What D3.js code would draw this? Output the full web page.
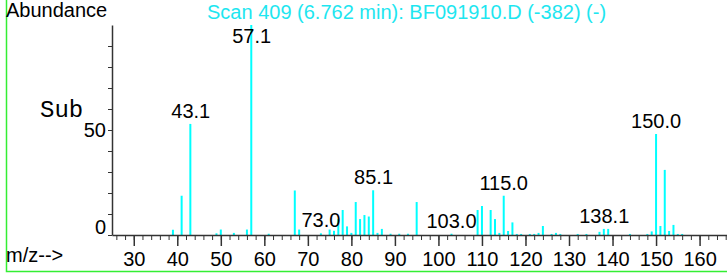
<!DOCTYPE html>
<html>
<head>
<meta charset="utf-8">
<script src="https://cdn.jsdelivr.net/npm/d3@7"></script>
<style>
  body { margin: 0; background: #fff; }
  svg { display: block; font-family: "Liberation Sans", Arial, sans-serif; }
  .axis path, .axis line { stroke: #333; }
  .axis text { font-size: 20px; fill: #000; font-family: "Liberation Sans", Arial, sans-serif; }
  .sub { font-family: "Liberation Mono", "DejaVu Sans Mono", monospace; font-size: 24px; }
</style>
</head>
<body>
<div class="chart"></div>
<script>
// m/z and relative abundance (%)
const mzValues = [39, 41, 43, 49, 50, 53, 56, 57, 61, 67, 68, 73, 75, 76, 77, 78, 79, 80, 81, 82,
  83, 84, 85, 86, 87, 89, 91, 93, 95, 103, 109, 110, 112, 113, 114, 115, 116, 117, 118, 119,
  121, 122, 123, 124, 126, 127, 128, 132, 134, 137, 138, 139, 144, 148, 149, 150, 151, 152, 153, 154,
  155, 156];
const abundances = [2.5, 18.7, 52.9, 0.8, 2.6, 1.0, 2.6, 100, 0.6, 21.2, 2.6, 0.8, 2.6, 2.0, 7.5, 11.9, 4.1, 1.0, 15.7, 7.6,
  9.5, 8.8, 21.3, 1.0, 2.9, 0.6, 0.6, 0.6, 15.7, 0.6, 11.9, 13.8, 11.9, 7.6, 1.0, 18.7, 1.9, 6.0, 0.5, 0.5,
  0.5, 0.5, 1.0, 4.3, 0.5, 1.0, 0.5, 0.5, 0.5, 1.5, 2.9, 2.9, 0.5, 0.5, 1.7, 48.1, 4.3, 31, 1.9, 4.8,
  0.5, 0.5];

const labelMz = [43, 57, 73, 85, 103, 115, 138, 150];
const labelText = ["43.1", "57.1", "73.0", "85.1", "103.0", "115.0", "138.1", "150.0"];

const majorTicks = d3.range(30, 161, 10);
const minorTicks = d3.range(26, 167, 2);
const yTicks = d3.range(0, 100, 10);

const W = 727, H = 273;
const svg = d3.select(".chart").append("svg")
  .attr("width", W).attr("height", H);

const x = d3.scaleLinear().domain([25, 166.3]).range([112, 727]);
const y = d3.scaleLinear().domain([0, 100]).range([235, 25]);

// green frame
svg.append("rect")
  .attr("x", 6.5).attr("y", -5)
  .attr("width", W).attr("height", 276.5)
  .attr("fill", "none")
  .attr("stroke", "#33ee33")
  .attr("stroke-width", 1.5);

// bars
svg.append("g").selectAll("line")
  .data(mzValues.map((m, i) => ({ mz: m, v: abundances[i] })))
  .join("line")
  .attr("x1", d => x(d.mz)).attr("x2", d => x(d.mz))
  .attr("y1", y(0)).attr("y2", d => y(d.v))
  .attr("stroke", "#00ffff")
  .attr("stroke-width", 2);

// x axis: minor then major
svg.append("g").attr("class", "axis")
  .attr("transform", `translate(0,${y(0)})`)
  .call(d3.axisBottom(x).tickValues(minorTicks).tickSize(5).tickSizeOuter(0).tickFormat(""))
  .call(g => g.select(".domain").attr("stroke-width", 1.5));

svg.append("g").attr("class", "axis")
  .attr("transform", `translate(0,${y(0)})`)
  .call(d3.axisBottom(x).tickValues(majorTicks).tickSize(11).tickSizeOuter(0).tickPadding(6).tickFormat(d3.format("d")))
  .call(g => g.select(".domain").remove())
  .call(g => g.selectAll("line").attr("stroke-width", 1.5));

// y axis
svg.append("g").attr("class", "axis")
  .attr("transform", `translate(${x(25)},0)`)
  .call(d3.axisLeft(y).tickValues(yTicks).tickSize(4).tickSizeOuter(0).tickPadding(2)
    .tickFormat(d => d % 50 === 0 ? d : ""))
  .call(g => g.select(".domain").attr("stroke-width", 1.5))
  .call(g => g.selectAll(".tick text").filter(d => d === 0).attr("dy", "-0.1em"));

// peak labels
const valueOf = m => abundances[mzValues.indexOf(m)];
svg.append("g").selectAll("text")
  .data(labelMz.map((m, i) => ({ mz: m, t: labelText[i] })))
  .join("text")
  .attr("x", d => x(+d.t))
  .attr("y", d => Math.max(43, Math.min(230, y(valueOf(d.mz)) - 6)))
  .attr("text-anchor", "middle")
  .attr("font-size", 20)
  .text(d => d.t);

svg.append("text")
  .attr("x", 6).attr("y", 17)
  .attr("font-size", 20)
  .text("Abundance");

svg.append("text")
  .attr("x", 207).attr("y", 19)
  .attr("font-size", 20)
  .attr("fill", "#1ee6f0")
  .text("Scan 409 (6.762 min): BF091910.D (-382) (-)");

svg.append("text")
  .attr("x", 6).attr("y", 262)
  .attr("font-size", 20)
  .text("m/z-->");

svg.append("text")
  .attr("class", "sub")
  .attr("x", 40).attr("y", 117)
  .text("Sub");
</script>
</body>
</html>
